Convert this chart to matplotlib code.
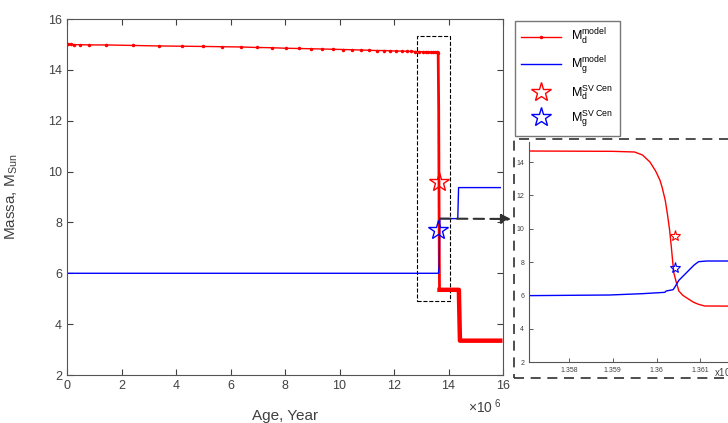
import matplotlib
matplotlib.use("Agg")
import matplotlib.pyplot as plt
from matplotlib.patches import Rectangle

plt.rcParams['font.family'] = ['Liberation Sans', 'DejaVu Sans']
plt.rcParams['mathtext.fontset'] = 'custom'
plt.rcParams['mathtext.rm'] = 'Liberation Sans'
plt.rcParams['mathtext.it'] = 'Liberation Sans'

# main panel, age in units of 1e6 yr
age_d = [0, 0.05, 0.13, 0.26, 0.48, 0.82, 1.43, 2.41, 3.36, 4.22, 5.0, 5.7, 6.37,
         6.96, 7.53, 8.02, 8.51, 8.95, 9.37, 9.76, 10.12, 10.46, 10.78, 11.08,
         11.36, 11.62, 11.86, 12.08, 12.28, 12.46, 12.63, 12.78, 12.92, 13.05,
         13.16, 13.26, 13.35, 13.43, 13.5, 13.56, 13.62]
mass_d = [15.0, 15.0, 15.0, 14.99, 14.99, 14.98, 14.98, 14.96, 14.94, 14.93, 14.92,
          14.91, 14.9, 14.88, 14.87, 14.85, 14.84, 14.83, 14.82, 14.81, 14.8, 14.79,
          14.78, 14.77, 14.76, 14.76, 14.75, 14.74, 14.74, 14.73, 14.73, 14.72,
          14.72, 14.71, 14.71, 14.7, 14.7, 14.7, 14.69, 14.69, 14.68]
age_drop = [13.62, 13.64, 13.65, 13.66, 13.67]
mass_drop = [14.68, 12.5, 9.6, 7.0, 5.35]
age_d_late = [13.67, 14.38, 14.42, 15.9]
mass_d_late = [5.35, 5.35, 3.35, 3.35]

age_g = [0, 13.63, 13.66, 13.68, 14.34, 14.37, 15.9]
mass_g = [6.0, 6.0, 6.3, 8.15, 8.15, 9.37, 9.37]

star_d = (13.65, 9.6)
star_g = (13.6, 7.7)

# zoom panel, age in units of 1e7 yr
zage_d = [1.3570, 1.3590, 1.3595, 1.35968, 1.35985, 1.35998, 1.36008, 1.36013,
          1.36020, 1.36025, 1.36030, 1.36034, 1.36037, 1.36040, 1.36045, 1.36051,
          1.36060, 1.36074, 1.36085, 1.36096, 1.36110, 1.3620]
zmass_d = [14.66, 14.64, 14.6, 14.42, 14.0, 13.46, 12.9, 12.46, 11.7, 10.86, 9.9,
           8.86, 8.0, 7.3, 6.8, 6.26, 6.0, 5.76, 5.58, 5.46, 5.36, 5.35]
zage_g = [1.3570, 1.35893, 1.35968, 1.36019, 1.36022, 1.36038, 1.36041, 1.36051,
          1.36070, 1.36085, 1.36096, 1.36115, 1.3620]
zmass_g = [5.98, 6.02, 6.1, 6.18, 6.26, 6.34, 6.46, 6.9, 7.4, 7.8, 8.02, 8.06, 8.06]
zstar_d = (1.360421, 9.56)
zstar_g = (1.360421, 7.66)

gray = '#404040'
W, H = 728, 423
fig = plt.figure(figsize=(W / 100, H / 100), dpi=100)

ax = fig.add_axes([67 / W, 1 - 375 / H, 436 / W, 356 / H])
ax.plot(age_d, mass_d, '-', color='red', lw=1, marker='.', ms=3, label=r'M$^{\rm model}_{\rm d}$')
ax.plot(age_drop, mass_drop, '-', color='red', lw=2)
ax.plot(age_d_late, mass_d_late, '-', color='red', lw=3.2)
ax.plot(age_g, mass_g, '-', color='blue', lw=1, label=r'M$^{\rm model}_{\rm g}$')
ax.plot(*star_d, '*', ms=15, mfc='none', mec='red', mew=1, ls='none', label=r'M$^{\rm SV\ Cen}_{\rm d}$')
ax.plot(*star_g, '*', ms=15, mfc='none', mec='blue', mew=1, ls='none', label=r'M$^{\rm SV\ Cen}_{\rm g}$')
ax.add_patch(Rectangle((12.85, 4.91), 1.2, 10.42, fill=False, ls='--', lw=0.8, ec='black'))

ax.set_xlim(0, 16)
ax.set_ylim(2, 16)
ax.set_xticks(range(0, 17, 2))
ax.set_yticks(range(2, 17, 2))
ax.tick_params(direction='in', top=True, right=True, labelsize=9, colors=gray, length=4)
for s in ax.spines.values():
    s.set_color('#555555')
ax.set_xlabel('Age, Year', fontsize=11, color=gray, labelpad=12)
ax.set_ylabel(r'Massa, M$_{\rm Sun}$', fontsize=11, color=gray, labelpad=20)
fig.text(468 / W, 1 - 413 / H, r'$\times$10$^{\ 6}$', fontsize=10, color=gray)

ax.annotate('', xy=(511, H - 219), xycoords='figure pixels', xytext=(13.7, 8.15),
            textcoords='data',
            arrowprops=dict(arrowstyle='-|>', ls=(0, (5, 3)), lw=1.5, color='#303030',
                            mutation_scale=14, shrinkA=0, shrinkB=0))

fig.legend(loc='upper left', bbox_to_anchor=(515 / W, 1 - 21 / H), fontsize=9,
           frameon=True, fancybox=False, edgecolor='#555555', handlelength=3.2,
           labelspacing=0.55, borderpad=0.5, borderaxespad=0, markerscale=1)

# zoom panel
ax2 = fig.add_axes([529 / W, 1 - 362 / H, 209 / W, 220 / H])
ax2.plot(zage_d, zmass_d, '-', color='red', lw=1)
ax2.plot(zage_g, zmass_g, '-', color='blue', lw=1)
ax2.plot(*zstar_d, '*', ms=8, mfc='none', mec='red', mew=0.8)
ax2.plot(*zstar_g, '*', ms=8, mfc='none', mec='blue', mew=0.8)
ax2.set_xlim(1.35709, 1.36186)
ax2.set_ylim(2, 15.2)
ax2.set_xticks([1.358, 1.359, 1.36, 1.361])
ax2.set_xticklabels(['1.358', '1.359', '1.36', '1.361'])
ax2.set_yticks(range(2, 15, 2))
ax2.tick_params(direction='in', labelsize=5, colors=gray, length=3, width=0.6)
ax2.spines['top'].set_visible(False)
ax2.spines['right'].set_visible(False)
for s in ('left', 'bottom'):
    ax2.spines[s].set_color('#555555')
fig.text(714 / W, 1 - 377 / H, r'x10$^{7}$', fontsize=7, color=gray)
fig.patches.append(Rectangle((514 / W, 1 - 378 / H), 260 / W, 239 / H, transform=fig.transFigure,
                             fill=False, ls=(0, (6, 4)), lw=1.2, ec='#303030'))

fig.savefig('out.png', dpi=100)
